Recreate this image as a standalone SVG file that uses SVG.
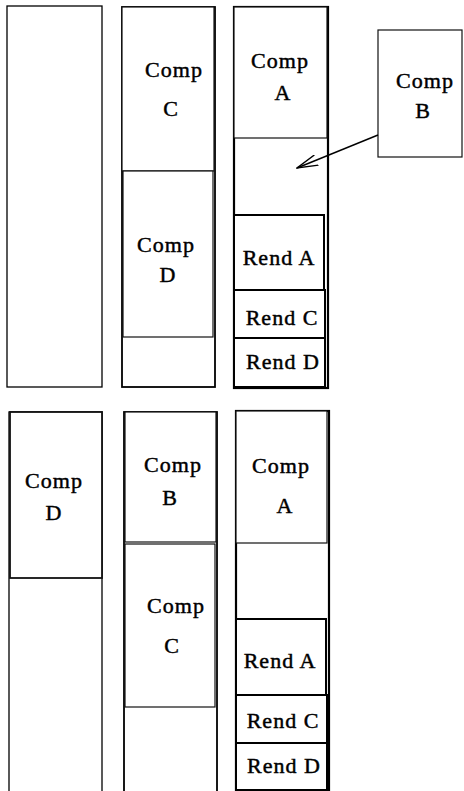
<svg xmlns="http://www.w3.org/2000/svg" width="464" height="791" viewBox="0 0 464 791">
  <style>
    .col { fill: none; stroke: #000; stroke-width: 1.8; }
    .comp { fill: #fff; stroke: #111; stroke-width: 1.2; }
    .rend { fill: #fff; stroke: #000; stroke-width: 2; }
    text { font-family: "Liberation Serif", "Times New Roman", serif; font-size: 22px; letter-spacing: 1px; fill: #000; stroke: #000; stroke-width: 0.45; text-anchor: middle; }
    .conn { fill: none; stroke: #000; stroke-width: 1.4; }
  </style>
  <defs>
    <marker id="open-arrow" markerUnits="userSpaceOnUse" viewBox="0 0 22 12" refX="21" refY="6" markerWidth="22" markerHeight="12" orient="auto">
      <path d="M0,0.5 L21,6 L0,11.5" fill="none" stroke="#000" stroke-width="1.4"/>
    </marker>
  </defs>
  <rect width="464" height="791" fill="#fff"/>

  <!-- upper row: three columns -->
  <g id="top-col1">
    <rect class="col" x="7" y="6" width="95" height="381" style="stroke-width:1.3"/>
  </g>
  <g id="top-col2">
    <rect class="col" x="122" y="7" width="93" height="380"/>
  </g>
  <g id="top-comp-c">
    <rect class="comp" x="122" y="7" width="92" height="164"/>
    <text x="174" y="77">Comp</text>
    <text x="171" y="116">C</text>
  </g>
  <g id="top-comp-d">
    <rect class="comp" x="123" y="171" width="90" height="166"/>
    <text x="166" y="252">Comp</text>
    <text x="168" y="282">D</text>
  </g>
  <g id="top-col3">
    <rect class="col" x="234" y="7" width="94" height="381" style="stroke-width:2.2"/>
  </g>
  <g id="top-comp-a">
    <rect class="comp" x="234" y="7" width="93" height="131"/>
    <text x="280" y="68">Comp</text>
    <text x="283" y="100">A</text>
  </g>
  <g id="top-rend-a">
    <rect class="rend" x="234" y="215" width="90" height="75"/>
    <text x="279" y="265">Rend A</text>
  </g>
  <g id="top-rend-c">
    <rect class="rend" x="234" y="290" width="91" height="48"/>
    <text x="282" y="325">Rend C</text>
  </g>
  <g id="top-rend-d">
    <rect class="rend" x="234" y="338" width="91" height="49"/>
    <text x="283" y="369">Rend D</text>
  </g>
  <g id="top-comp-b">
    <rect class="comp" x="378" y="30" width="84" height="127"/>
    <text x="425" y="88">Comp</text>
    <text x="423" y="118">B</text>
  </g>

  <!-- lower row: three columns running off the bottom edge -->
  <g id="bot-col1">
    <rect class="col" x="9" y="412" width="93" height="400" style="stroke-width:1.3"/>
  </g>
  <g id="bot-comp-d">
    <rect class="comp" x="10" y="412" width="92" height="166" style="stroke-width:1.8"/>
    <text x="54" y="488">Comp</text>
    <text x="54" y="520">D</text>
  </g>
  <g id="bot-col2">
    <rect class="col" x="124" y="412" width="93" height="400"/>
  </g>
  <g id="bot-comp-b">
    <rect class="comp" x="125" y="412" width="91" height="130"/>
    <text x="173" y="472">Comp</text>
    <text x="170" y="505">B</text>
  </g>
  <g id="bot-comp-c">
    <rect class="comp" x="125" y="544" width="90" height="163"/>
    <text x="176" y="613">Comp</text>
    <text x="172" y="653">C</text>
  </g>
  <g id="bot-col3">
    <rect class="col" x="236" y="411" width="93" height="400" style="stroke-width:2.2"/>
  </g>
  <g id="bot-comp-a">
    <rect class="comp" x="236" y="411" width="91" height="132"/>
    <text x="281" y="473">Comp</text>
    <text x="285" y="513">A</text>
  </g>
  <g id="bot-rend-a">
    <rect class="rend" x="236" y="619" width="90" height="76"/>
    <text x="280" y="668">Rend A</text>
  </g>
  <g id="bot-rend-c">
    <rect class="rend" x="236" y="695" width="91" height="48"/>
    <text x="283" y="728">Rend C</text>
  </g>
  <g id="bot-rend-d">
    <rect class="rend" x="236" y="743" width="91" height="47"/>
    <text x="284" y="773">Rend D</text>
  </g>

  <!-- connector: Comp B is dropped into the free slot of the third column -->
  <g id="connectors">
    <line class="conn" x1="378" y1="135" x2="297" y2="168" marker-end="url(#open-arrow)"/>
  </g>
</svg>
